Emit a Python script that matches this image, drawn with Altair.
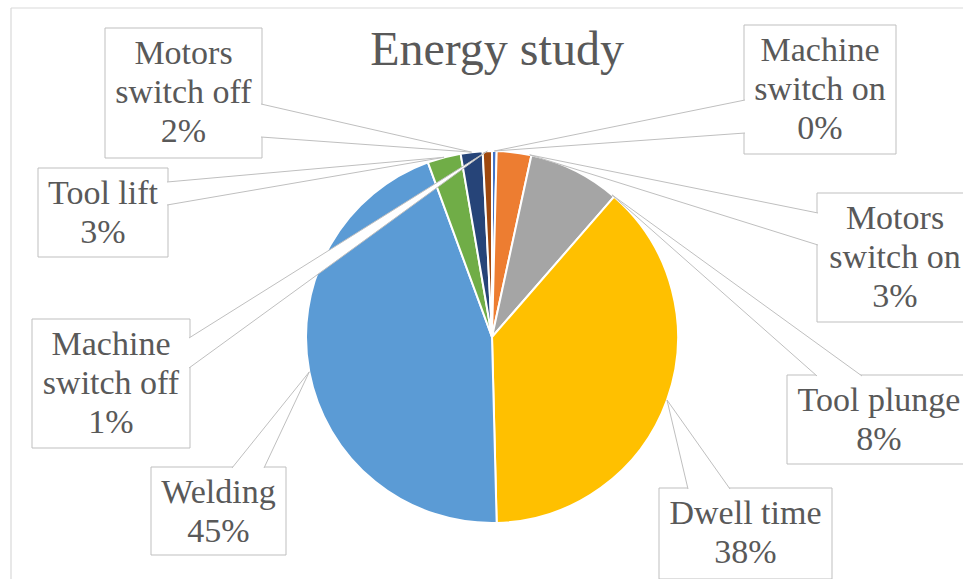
import altair as alt
import pandas as pd

# ---- data (clockwise from 12 o'clock) ----
names = ["Machine switch on", "Motors switch on", "Tool plunge", "Dwell time",
         "Welding", "Tool lift", "Motors switch off", "Machine switch off"]
values = [0.4, 3.0, 8.0, 38.2, 44.8, 2.9, 1.9, 0.8]
label_text = ["Machine|switch on", "Motors|switch on", "Tool plunge", "Dwell time",
              "Welding", "Tool lift", "Motors|switch off", "Machine|switch off"]
colors = ["#4472C4", "#ED7D31", "#A5A5A5", "#FFC000",
          "#5B9BD5", "#70AD47", "#264478", "#9E480E"]

# ---- layout of the callout boxes (pixels) ----
box_x0 = [744, 817, 787, 659, 151, 38, 105, 32]
box_y0 = [25, 193, 375, 488, 467, 168, 28, 319]
box_x1 = [896, 973, 971, 832, 286, 168, 262, 190]
box_y1 = [154, 322, 464, 579, 555, 257, 158, 448]
ptr_x1 = [745, 818, 817, 688, 232, 167, 261, 189]
ptr_y1 = [100, 213, 376, 489, 468, 182, 104, 338]
ptr_x2 = [745, 818, 862, 730, 264, 167, 261, 189]
ptr_y2 = [133, 245, 376, 489, 468, 205, 137, 368]
# where along each slice's rim the callout points (0 = start, 1 = end)
tip_frac = [0.5, 0.95, 0.97, 0.5, 0.5, 0.5, 0.5, 0.5]

CX, CY, R = 492, 337, 186
W, H = 963, 579
FS, LH, TOP = 34, 39, 36
SERIF = "Liberation Serif"

df = pd.DataFrame({
    "name": names, "value": values, "label_text": label_text,
    "order": list(range(len(names))),
    "box_x0": box_x0, "box_y0": box_y0, "box_x1": box_x1, "box_y1": box_y1,
    "px1": ptr_x1, "py1": ptr_y1, "px2": ptr_x2, "py2": ptr_y2,
    "tip_frac": tip_frac,
})

xsc = alt.Scale(domain=[0, W], nice=False, zero=False)
ysc = alt.Scale(domain=[0, H], reverse=True, nice=False, zero=False)

arcs = alt.Chart(df).mark_arc(outerRadius=R, stroke="white", strokeWidth=2).encode(
    theta=alt.Theta("value:Q", stack=True),
    order=alt.Order("order:Q"),
    color=alt.Color("name:N", scale=alt.Scale(domain=names, range=colors), legend=None),
    x=alt.value(CX), y=alt.value(CY),
)

base = alt.Chart(df).transform_window(
    cum="sum(value)", sort=[alt.SortField(field="order", order="ascending")], frame=[None, 0]
).transform_joinaggregate(
    total="sum(value)"
).transform_calculate(
    ang="2*PI*(datum.cum - datum.value + datum.tip_frac*datum.value)/datum.total"
).transform_calculate(
    tx=f"{CX} + {R}*sin(datum.ang)",
    ty=f"{CY} - {R}*cos(datum.ang)",
    pct="format(datum.value/datum.total, '.0%')",
    cx="(datum.box_x0 + datum.box_x1)/2",
)

boxes = base.mark_rect(fill="white", stroke="#BFBFBF", strokeWidth=1).encode(
    x=alt.X("box_x0:Q", scale=xsc, axis=None), x2="box_x1:Q",
    y=alt.Y("box_y0:Q", scale=ysc, axis=None), y2="box_y1:Q",
)

wedges = base.transform_calculate(
    xs="[datum.px1, datum.tx, datum.px2]",
    ys="[datum.py1, datum.ty, datum.py2]",
    ks="[0, 1, 2]",
).transform_flatten(["xs", "ys", "ks"]).mark_line(
    fill="white", stroke="#BFBFBF", strokeWidth=1
).encode(
    x=alt.X("xs:Q", scale=xsc, axis=None),
    y=alt.Y("ys:Q", scale=ysc, axis=None),
    detail="name:N",
    order="ks:Q",
)

texts = base.transform_calculate(
    lines="split(datum.label_text + '|' + datum.pct, '|')"
).transform_calculate(
    li="sequence(0, length(datum.lines))"
).transform_flatten(["lines", "li"]).transform_calculate(
    ly=f"datum.box_y0 + {TOP} + {LH}*datum.li"
).mark_text(
    font=SERIF, fontSize=FS, color="#595959",
    align="center", baseline="alphabetic"
).encode(
    x=alt.X("cx:Q", scale=xsc, axis=None),
    y=alt.Y("ly:Q", scale=ysc, axis=None),
    text="lines:N",
)

title = alt.Chart(pd.DataFrame({"t": ["Energy study"]})).mark_text(
    font=SERIF, fontSize=48, color="#595959", align="center", baseline="alphabetic"
).encode(x=alt.value(497), y=alt.value(65), text="t:N")

border_top = alt.Chart(pd.DataFrame({"a": [0]})).mark_rule(color="#D9D9D9", strokeWidth=1.2).encode(
    x=alt.value(11), x2=alt.value(W), y=alt.value(8))
border_left = alt.Chart(pd.DataFrame({"a": [0]})).mark_rule(color="#D9D9D9", strokeWidth=1.2).encode(
    x=alt.value(11), y=alt.value(8), y2=alt.value(H))

chart = alt.layer(arcs, boxes, wedges, texts, title, border_top, border_left).properties(
    width=W, height=H, padding=0, autosize=alt.AutoSizeParams(type="none"),
    background="white",
).configure(font=SERIF).configure_text(font=SERIF).configure_view(stroke=None)

chart.save("out.html", embed_options={"renderer": "svg", "actions": False})
